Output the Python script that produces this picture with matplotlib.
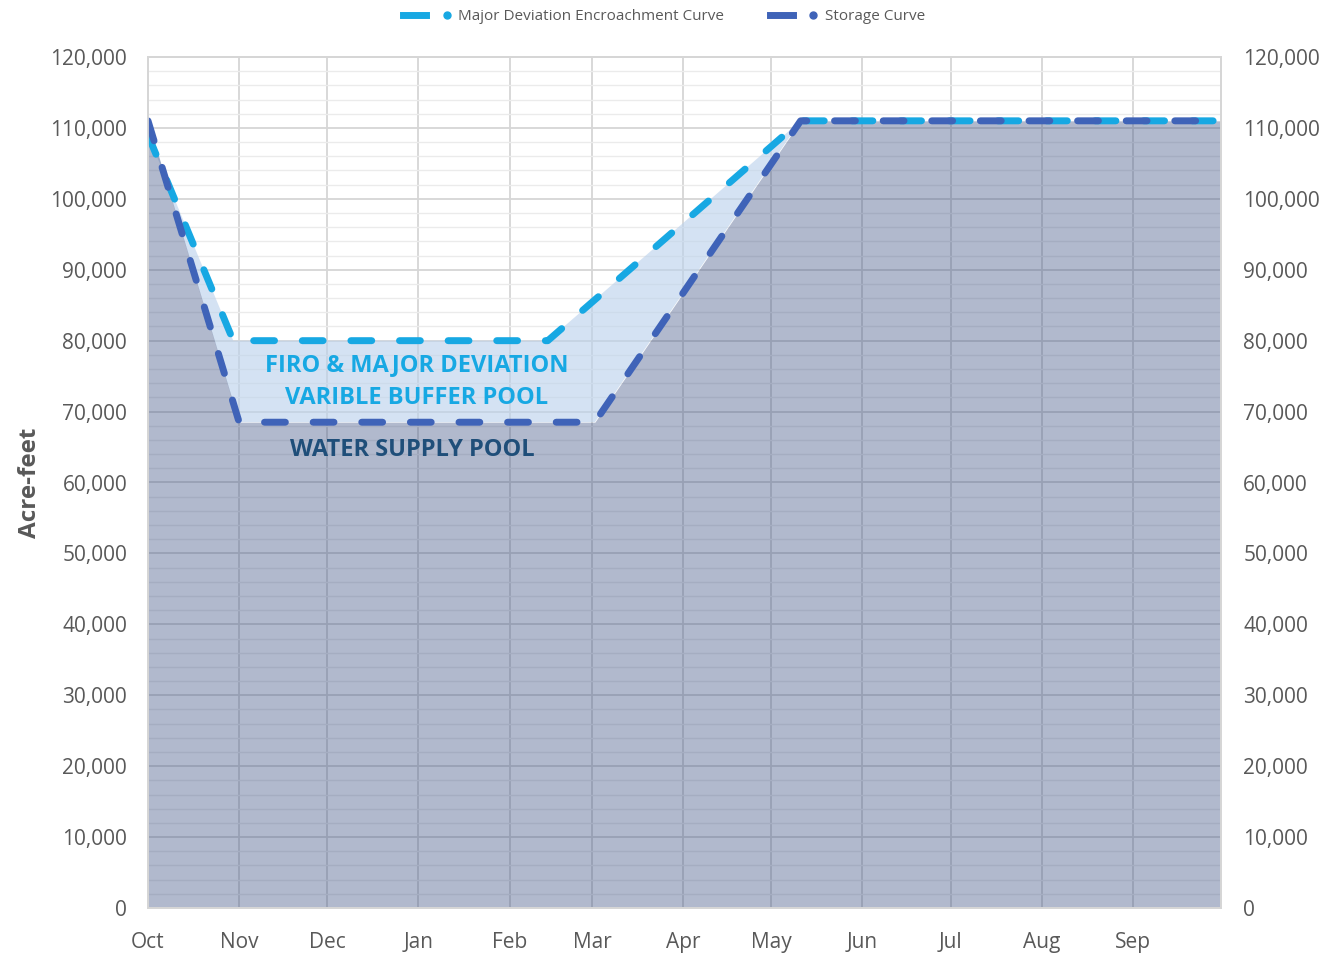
import numpy as np
import matplotlib.pyplot as plt
from matplotlib.lines import Line2D
from matplotlib.legend_handler import HandlerTuple
from matplotlib.ticker import FuncFormatter, MultipleLocator

plt.rcParams['font.family'] = ['Open Sans', 'DejaVu Sans']

# water year, days counted from Oct 1
months = ['Oct', 'Nov', 'Dec', 'Jan', 'Feb', 'Mar', 'Apr', 'May', 'Jun', 'Jul', 'Aug', 'Sep']
month_days = [31, 30, 31, 31, 28, 31, 30, 31, 30, 31, 31, 30]

storage_day = [0, 31, 152, 222, 365]
storage_af = [111000, 68500, 68500, 111000, 111000]

deviation_day = [0, 29, 136, 222, 365]
deviation_af = [109000, 80000, 80000, 111000, 111000]

yticks = list(range(0, 120001, 10000))

LIGHT = '#17a8e3'
DARK = '#3f63b8'
GREY_TXT = '#595959'

month_start = np.concatenate([[0], np.cumsum(month_days)[:-1]])

fig = plt.figure(figsize=(13.28, 9.55), dpi=100)
ax = fig.add_axes([148 / 1328, 1 - 908 / 955, (1221 - 148) / 1328, (908 - 57) / 955])

ax.set_xlim(0, 365)
ax.set_ylim(0, 120000)

# grid first so the translucent areas tint it
ax.set_axisbelow(True)
ax.yaxis.set_major_locator(MultipleLocator(10000))
ax.yaxis.set_minor_locator(MultipleLocator(2000))
ax.set_xticks(month_start)
ax.grid(which='major', axis='both', color='#d6d6d6', lw=1.3)
ax.grid(which='minor', axis='y', color='#ebebeb', lw=1.0)
ax.axvline(365, color='#d6d6d6', lw=1.3, zorder=0)

# buffer pool band between the two curves
band_x = np.concatenate([deviation_day, storage_day[::-1]])
band_y = np.concatenate([deviation_af, storage_af[::-1]])
ax.fill(band_x, band_y, color='#bcd2ec', alpha=0.63, lw=0, zorder=1)

# water supply pool under the storage curve
ax.fill_between(storage_day, 0, storage_af, color='#3c5082', alpha=0.4, lw=0, zorder=2)

dev_line, = ax.plot(deviation_day, deviation_af, color=LIGHT, lw=5, zorder=3,
                    dash_capstyle='round', solid_capstyle='round')
dev_line.set_dashes([3, 4])
sto_line, = ax.plot(storage_day, storage_af, color=DARK, lw=5, zorder=4,
                    dash_capstyle='round', solid_capstyle='round')
sto_line.set_dashes([3, 4])

ax.text(91.5, 76500, 'FIRO & MAJOR DEVIATION', color=LIGHT, fontsize=17,
        fontweight='bold', ha='center', va='center', zorder=5)
ax.text(91.5, 71900, 'VARIBLE BUFFER POOL', color=LIGHT, fontsize=17,
        fontweight='bold', ha='center', va='center', zorder=5)
ax.text(90, 64600, 'WATER SUPPLY POOL', color='#1f4e79', fontsize=17,
        fontweight='bold', ha='center', va='center', zorder=5)

fmt = FuncFormatter(lambda v, p: f'{int(v):,}')
ax.set_yticks(yticks)
ax.yaxis.set_major_formatter(fmt)
ax.set_xticklabels(months)
ax.tick_params(axis='both', which='both', length=0, labelsize=15, labelcolor=GREY_TXT)
ax.tick_params(axis='x', pad=17)
ax.tick_params(axis='y', pad=15)

ax2 = ax.twinx()
ax2.set_ylim(0, 120000)
ax2.set_yticks(yticks)
ax2.yaxis.set_major_formatter(fmt)
ax2.tick_params(axis='y', length=0, labelsize=15, labelcolor=GREY_TXT, pad=16)

for a in (ax, ax2):
    for s in a.spines.values():
        s.set_color('#d6d6d6')
        s.set_linewidth(1.3)

ax.set_ylabel('Acre-feet', fontsize=17.5, fontweight='bold', color=GREY_TXT, labelpad=6)

handles = [
    (Line2D([], [], color=LIGHT, lw=5), Line2D([], [], color=LIGHT, marker='o', ms=5, ls='none')),
    (Line2D([], [], color=DARK, lw=5), Line2D([], [], color=DARK, marker='o', ms=5, ls='none')),
]
fig.legend(handles, ['Major Deviation Encroachment Curve', 'Storage Curve'],
           handler_map={tuple: HandlerTuple(ndivide=None, pad=0.6)},
           loc='upper center', bbox_to_anchor=(0.5, 1.005), ncol=2, frameon=False,
           fontsize=11, labelcolor=GREY_TXT, handlelength=3.6, handletextpad=0.0,
           columnspacing=3.0)

fig.savefig('out.png', dpi=100)
